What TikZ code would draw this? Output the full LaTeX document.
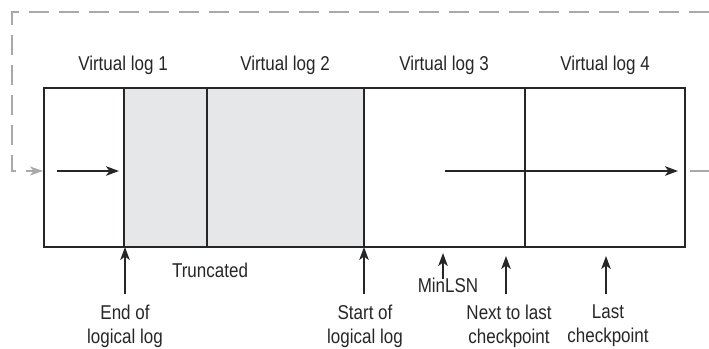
\documentclass[tikz,border=0pt]{standalone}
\usepackage{fontspec}
\setmainfont[FakeStretch=0.85]{Liberation Sans}
\usetikzlibrary{arrows.meta}
\definecolor{truncgray}{HTML}{E6E7E8}
\definecolor{loopgray}{HTML}{A7A9AC}
\begin{document}
\begin{tikzpicture}[x=1pt,y=-1pt,
  lbl/.style={inner sep=0pt,font=\fontsize{20}{24}\selectfont,text=black!85},
  lbl2/.style={lbl,align=center},
  boxline/.style={line width=1.6pt,black!85},
  ptr/.style={line width=1.9pt,black!85,-{Stealth[length=13pt,width=9.5pt,inset=3.5pt]}},
  loopline/.style={line width=1.5pt,loopgray,dash pattern=on 20pt off 10pt},
  looparrow/.style={loopline,-{Stealth[length=13pt,width=9pt,inset=3.5pt]}}]
\useasboundingbox (0,0) rectangle (709,348);
% truncated area
\fill[truncgray] (124,88) rectangle (364,247);
% box and dividers
\draw[boxline] (44,88) rectangle (685,247);
\foreach \x in {124,207,364,525} \draw[boxline] (\x,88) -- (\x,247);
% coordinates
\coordinate (loopA) at (709,12);
\coordinate (loopB) at (12,12);
\coordinate (loopC) at (12,171);
\coordinate (loopD) at (43,171);
\coordinate (loopE) at (690,171);
\coordinate (loopF) at (709,171);
\coordinate (in1s) at (57,171);
\coordinate (in1e) at (119,171);
\coordinate (in2s) at (445,171);
\coordinate (in2e) at (678,171);
% loop
\draw[loopline] (loopA) -- (loopB) -- (loopC) -- ([xshift=-12pt]loopD);
\draw[looparrow,dash pattern=] ([xshift=-15pt]loopD) -- (loopD);
\draw[loopline] (loopE) -- (loopF);
% inner arrows
\draw[ptr] (in1s) -- (in1e);
\draw[ptr] (in2s) -- (in2e);
% labels top
\node[lbl,anchor=base] (v1) at (123,70) {Virtual log 1};
\node[lbl,anchor=base] (v2) at (285,70) {Virtual log 2};
\node[lbl,anchor=base] (v3) at (444,70) {Virtual log 3};
\node[lbl,anchor=base] (v4) at (605,70) {Virtual log 4};
% bottom labels
\node[lbl,anchor=base] (trunc) at (210,277) {Truncated};
\node[lbl,anchor=base] (minlsn) at (448,292) {MinLSN};
\node[lbl2] (endlog) at (125,326) {End of\\logical log};
\node[lbl2] (startlog) at (365,326) {Start of\\logical log};
\node[lbl2] (nextlast) at (509,326) {Next to last\\checkpoint};
\node[lbl2] (last) at (608,326) {Last\\checkpoint};
% pointers
\coordinate (pEnd) at (125,247);
\coordinate (pStart) at (364,247);
\coordinate (pMin) at (443,253);
\coordinate (pNext) at (506,256);
\coordinate (pLast) at (606,256);
\draw[ptr] (125,294) -- (pEnd);
\draw[ptr] (364,294) -- (pStart);
\draw[ptr] ([yshift=-2pt]minlsn.north -| pMin) -- (pMin);
\draw[ptr] (506,294) -- (pNext);
\draw[ptr] (606,294) -- (pLast);
\end{tikzpicture}
\end{document}
